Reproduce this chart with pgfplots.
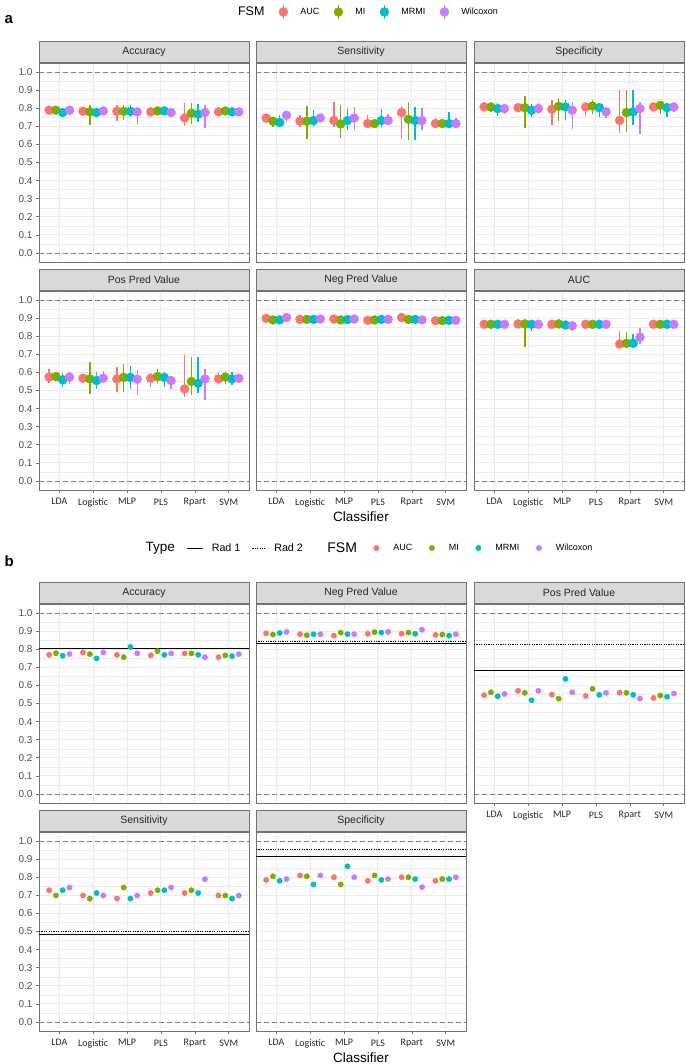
\documentclass[border=0pt]{standalone}
\usepackage{pgfplots}
\usepackage{pgfplotstable}
\pgfplotsset{compat=1.18}
\usepackage{fontspec}
\setmainfont{Liberation Sans}
\newfontfamily\carlito{Carlito}
\definecolor{cA}{HTML}{F8766D}
\definecolor{cM}{HTML}{7CAE00}
\definecolor{cR}{HTML}{00BFC4}
\definecolor{cW}{HTML}{C77CFF}
\definecolor{gridc}{HTML}{EBEBEB}
\definecolor{bordc}{HTML}{737373}
\definecolor{stripc}{HTML}{D9D9D9}
\definecolor{tickc}{HTML}{4D4D4D}
\definecolor{dashc}{HTML}{808080}

% ---------- part a: point estimate with lower/upper ----------
\pgfplotstableread{
c a alo ahi m mlo mhi r rlo rhi w wlo whi
0 .789 .780 .800 .789 .780 .800 .776 .765 .790 .789 .780 .800
1 .783 .775 .795 .780 .706 .816 .776 .760 .790 .785 .775 .795
2 .783 .730 .816 .783 .733 .820 .783 .750 .820 .780 .715 .800
3 .780 .765 .800 .785 .770 .800 .785 .765 .800 .776 .765 .790
4 .746 .702 .829 .772 .711 .829 .767 .724 .825 .776 .688 .816
5 .780 .770 .790 .785 .775 .795 .780 .770 .790 .780 .770 .790
}\accA
\pgfplotstableread{
c a alo ahi m mlo mhi r rlo rhi w wlo whi
0 .746 .719 .770 .728 .697 .752 .721 .697 .765 .761 .724 .789
1 .728 .697 .761 .728 .629 .811 .732 .697 .789 .746 .719 .770
2 .732 .697 .835 .713 .636 .820 .732 .678 .798 .746 .678 .807
3 .715 .688 .761 .715 .697 .743 .732 .697 .794 .732 .706 .770
4 .776 .632 .811 .739 .623 .835 .732 .623 .807 .732 .678 .803
5 .715 .688 .746 .715 .688 .737 .715 .688 .779 .715 .688 .748
}\senA
\pgfplotstableread{
c a alo ahi m mlo mhi r rlo rhi w wlo whi
0 .807 .789 .835 .807 .780 .825 .798 .756 .829 .798 .770 .825
1 .803 .780 .825 .803 .688 .866 .789 .752 .825 .798 .770 .829
2 .794 .706 .847 .811 .730 .858 .807 .733 .844 .789 .684 .835
3 .807 .756 .829 .812 .770 .844 .803 .752 .829 .780 .748 .807
4 .733 .664 .903 .776 .669 .899 .780 .706 .899 .798 .660 .835
5 .807 .780 .835 .816 .770 .835 .803 .752 .829 .807 .780 .829
}\speA
\pgfplotstableread{
c a alo ahi m mlo mhi r rlo rhi w wlo whi
0 .574 .544 .618 .577 .555 .600 .559 .522 .599 .574 .535 .605
1 .568 .540 .590 .564 .480 .660 .555 .510 .600 .568 .540 .610
2 .564 .494 .632 .572 .494 .645 .572 .510 .636 .562 .476 .614
3 .568 .522 .599 .577 .540 .618 .572 .522 .605 .555 .510 .580
4 .509 .463 .697 .550 .476 .684 .540 .485 .684 .564 .445 .618
5 .564 .540 .600 .574 .535 .605 .564 .530 .600 .568 .540 .590
}\ppvA
\pgfplotstableread{
c a alo ahi m mlo mhi r rlo rhi w wlo whi
0 .899 .894 .904 .890 .885 .895 .890 .885 .895 .904 .899 .909
1 .893 .888 .898 .893 .886 .899 .893 .888 .898 .895 .890 .900
2 .895 .890 .900 .890 .885 .896 .892 .887 .897 .895 .890 .900
3 .888 .883 .893 .890 .885 .895 .893 .888 .898 .893 .888 .898
4 .903 .897 .908 .893 .887 .899 .893 .888 .898 .890 .885 .895
5 .886 .881 .891 .886 .881 .891 .888 .883 .893 .888 .883 .893
}\npvA
\pgfplotstableread{
c a alo ahi m mlo mhi r rlo rhi w wlo whi
0 .866 .861 .871 .866 .861 .871 .866 .861 .871 .866 .861 .871
1 .868 .863 .873 .868 .740 .875 .866 .828 .872 .866 .861 .871
2 .866 .861 .871 .868 .863 .873 .862 .857 .867 .858 .828 .880
3 .866 .861 .871 .866 .861 .871 .866 .861 .871 .866 .861 .871
4 .757 .755 .829 .761 .757 .826 .761 .757 .814 .794 .757 .843
5 .866 .861 .871 .866 .861 .871 .866 .861 .871 .866 .861 .871
}\aucA

% ---------- part b: single values ----------
\pgfplotstableread{
c a m r w
0 .769 .778 .764 .773
1 .782 .773 .749 .782
2 .769 .756 .813 .777
3 .766 .789 .769 .777
4 .777 .777 .769 .756
5 .756 .766 .762 .773
}\accB
\pgfplotstableread{
c a m r w
0 .888 .881 .890 .896
1 .883 .877 .883 .883
2 .875 .892 .883 .883
3 .885 .894 .892 .896
4 .886 .892 .885 .908
5 .879 .881 .875 .883
}\npvB
\pgfplotstableread{
c a m r w
0 .546 .562 .540 .553
1 .570 .559 .518 .570
2 .549 .527 .636 .562
3 .542 .581 .548 .559
4 .560 .559 .548 .527
5 .531 .544 .537 .555
}\ppvB
\pgfplotstableread{
c a m r w
0 .728 .699 .728 .743
1 .699 .682 .713 .699
2 .682 .743 .682 .699
3 .713 .728 .728 .743
4 .713 .728 .713 .789
5 .699 .699 .682 .699
}\senB
\pgfplotstableread{
c a m r w
0 .785 .805 .780 .790
1 .810 .805 .760 .810
2 .800 .760 .860 .800
3 .780 .810 .785 .790
4 .800 .800 .790 .745
5 .780 .790 .790 .800
}\speB

\pgfplotsset{
  panel/.style={
    scale only axis, width=210pt, height=199pt,
    anchor=north west,
    xmin=-0.6, xmax=5.6, ymin=-0.05, ymax=1.05,
    xtick={0,1,2,3,4,5}, xticklabels={LDA,Logistic,MLP,PLS,Rpart,SVM},
    ytick={0,0.1,0.2,0.3,0.4,0.5,0.6,0.7,0.8,0.9,1},
    minor ytick={0.05,0.15,0.25,0.35,0.45,0.55,0.65,0.75,0.85,0.95},
    grid=both,
    major grid style={draw=gridc, line width=0.9pt},
    minor grid style={draw=gridc, line width=0.45pt},
    axis line style={draw=bordc, line width=0.8pt},
    tick pos=left, tick align=outside,
    major tick length=3pt, minor tick length=0pt,
    tick style={draw=bordc, line width=0.6pt},
    /pgf/number format/assume math mode=true,
    yticklabel style={font=\fontsize{10}{12}\selectfont, text=tickc,
      /pgf/number format/.cd, fixed, fixed zerofill, precision=1},
    xticklabel style={font=\carlito\fontsize{10}{12}\selectfont, text=black!85, yshift=-2pt},
    title style={at={(0.5,1)}, anchor=south, yshift=-6pt, fill=stripc, draw=bordc, line width=0.8pt,
      minimum width=210pt, minimum height=21pt, inner sep=0pt,
      font=\fontsize{10.5}{12}\selectfont, text=black!85},
    every axis x label/.style={at={(axis description cs:0.5,0)}, anchor=center,
      yshift=-27pt, font=\fontsize{13.5}{15}\selectfont},
  },
  noy/.style={yticklabels={}, ytick style={draw=none}},
  nox/.style={xticklabels={}, xtick style={draw=none}},
  ptA/.style={only marks, mark=*, mark size=4.5pt, color=#1,
    mark options={draw=none, fill=#1},
    error bars/y dir=both, error bars/y explicit, error bars/error mark=none,
    error bars/error bar style={line width=1.4pt, color=#1}},
  ptB/.style={only marks, mark=*, mark size=2.7pt, color=#1,
    mark options={draw=none, fill=#1}},
  legbox/.style={hide axis, scale only axis, width=10pt, height=10pt, anchor=center,
    xmin=0, xmax=1, ymin=0, ymax=1,
    legend style={at={(0.5,0.5)}, anchor=center, draw=none, fill=none,
      legend columns=-1, font=\fontsize{9}{11}\selectfont,
      /tikz/every even column/.append style={column sep=#1}},
    legend cell align=left},
}

\newcommand\reflines{%
  \addplot[dashc, line width=0.8pt, dash pattern=on 4.5pt off 3.5pt] coordinates {(-0.6,0) (5.6,0)};
  \addplot[dashc, line width=0.8pt, dash pattern=on 4.5pt off 3.5pt] coordinates {(-0.6,1) (5.6,1)};
}
\newcommand\fourA[1]{%
  \addplot[ptA=cA] table[x expr=\thisrow{c}-0.3, y=a, y error plus expr=\thisrow{ahi}-\thisrow{a}, y error minus expr=\thisrow{a}-\thisrow{alo}] {#1};
  \addplot[ptA=cM] table[x expr=\thisrow{c}-0.1, y=m, y error plus expr=\thisrow{mhi}-\thisrow{m}, y error minus expr=\thisrow{m}-\thisrow{mlo}] {#1};
  \addplot[ptA=cR] table[x expr=\thisrow{c}+0.1, y=r, y error plus expr=\thisrow{rhi}-\thisrow{r}, y error minus expr=\thisrow{r}-\thisrow{rlo}] {#1};
  \addplot[ptA=cW] table[x expr=\thisrow{c}+0.3, y=w, y error plus expr=\thisrow{whi}-\thisrow{w}, y error minus expr=\thisrow{w}-\thisrow{wlo}] {#1};
}
\newcommand\fourB[1]{%
  \addplot[ptB=cA] table[x expr=\thisrow{c}-0.3, y=a] {#1};
  \addplot[ptB=cM] table[x expr=\thisrow{c}-0.1, y=m] {#1};
  \addplot[ptB=cR] table[x expr=\thisrow{c}+0.1, y=r] {#1};
  \addplot[ptB=cW] table[x expr=\thisrow{c}+0.3, y=w] {#1};
}
\newcommand\radlines[2]{%
  \addplot[black, line width=0.8pt, dash pattern=on 1.2pt off 1.2pt] coordinates {(-0.6,#2) (5.6,#2)};
  \addplot[black, line width=0.8pt] coordinates {(-0.6,#1) (5.6,#1)};
}
\newcommand\keyA[1]{\addlegendimage{legend image code/.code={\path[draw=none,fill=none](0pt,0pt)--(25pt,0pt);\draw[#1,line width=1.3pt](10pt,-7pt)--(10pt,7pt);\fill[#1](10pt,0pt)circle(4.5pt);}}}
\newcommand\keyB[1]{\addlegendimage{legend image code/.code={\path[draw=none,fill=none](0pt,0pt)--(23pt,0pt);\fill[#1](8pt,0pt)circle(2.7pt);}}}

\begin{document}
\begin{tikzpicture}
\path[use as bounding box] (0pt,0pt) rectangle (685pt,-1064pt);

% ================= part a =================
\node[anchor=west, font=\bfseries\fontsize{15}{17}\selectfont] at (1pt,-20pt) {a};

\begin{axis}[legbox=7pt, at={(368pt,-12pt)}]
\addlegendimage{empty legend}\addlegendentry{\fontsize{12.5}{14}\selectfont FSM}
\keyA{cA}\addlegendentry{AUC}
\keyA{cM}\addlegendentry{MI}
\keyA{cR}\addlegendentry{MRMI}
\keyA{cW}\addlegendentry{Wilcoxon}
\end{axis}

\begin{axis}[panel, nox, at={(39pt,-63pt)}, title={Accuracy}]
\reflines \fourA{\accA}
\end{axis}
\begin{axis}[panel, nox, noy, at={(256pt,-63pt)}, title={Sensitivity}]
\reflines \fourA{\senA}
\end{axis}
\begin{axis}[panel, nox, noy, at={(474pt,-63pt)}, title={Specificity}]
\reflines \fourA{\speA}
\end{axis}
\begin{axis}[panel, at={(39pt,-291pt)}, title={Pos Pred Value}]
\reflines \fourA{\ppvA}
\end{axis}
\begin{axis}[panel, noy, at={(256pt,-291pt)}, title={Neg Pred Value}, xlabel={Classifier}]
\reflines \fourA{\npvA}
\end{axis}
\begin{axis}[panel, noy, at={(474pt,-291pt)}, title={AUC}]
\reflines \fourA{\aucA}
\end{axis}

% ================= part b =================
\node[anchor=west, font=\bfseries\fontsize{15}{17}\selectfont] at (1pt,-561pt) {b};

\begin{axis}[legbox=9.5pt, at={(369pt,-548pt)}]
\addlegendimage{empty legend}\addlegendentry{\fontsize{13.5}{15}\selectfont Type}
\addlegendimage{legend image code/.code={\path[draw=none,fill=none](0pt,0pt)--(23pt,0pt);\draw[black,line width=0.9pt](0pt,0pt)--(16pt,0pt);}}\addlegendentry{\fontsize{10.7}{12}\selectfont Rad 1}
\addlegendimage{legend image code/.code={\path[draw=none,fill=none](0pt,0pt)--(20pt,0pt);\draw[black,line width=0.9pt,dash pattern=on 1.2pt off 1.2pt](0pt,0pt)--(13pt,0pt);}}\addlegendentry{\fontsize{10.7}{12}\selectfont Rad 2\kern11pt\mbox{}}
\addlegendimage{empty legend}\addlegendentry{\fontsize{14}{16}\selectfont FSM}
\keyB{cA}\addlegendentry{AUC}
\keyB{cM}\addlegendentry{MI}
\keyB{cR}\addlegendentry{MRMI}
\keyB{cW}\addlegendentry{Wilcoxon}
\end{axis}

\begin{axis}[panel, nox, at={(39pt,-604pt)}, title={Accuracy}]
\reflines \radlines{0.806}{0.806} \fourB{\accB}
\end{axis}
\begin{axis}[panel, nox, noy, at={(256pt,-604pt)}, title={Neg Pred Value}]
\reflines \radlines{0.833}{0.842} \fourB{\npvB}
\end{axis}
\begin{axis}[panel, noy, at={(474pt,-604pt)}, title={Pos Pred Value}]
\reflines \radlines{0.683}{0.824} \fourB{\ppvB}
\end{axis}
\begin{axis}[panel, at={(39pt,-832pt)}, title={Sensitivity}]
\reflines \radlines{0.483}{0.500} \fourB{\senB}
\end{axis}
\begin{axis}[panel, noy, at={(256pt,-832pt)}, title={Specificity}, xlabel={Classifier}]
\reflines \radlines{0.913}{0.956} \fourB{\speB}
\end{axis}

\end{tikzpicture}
\end{document}
